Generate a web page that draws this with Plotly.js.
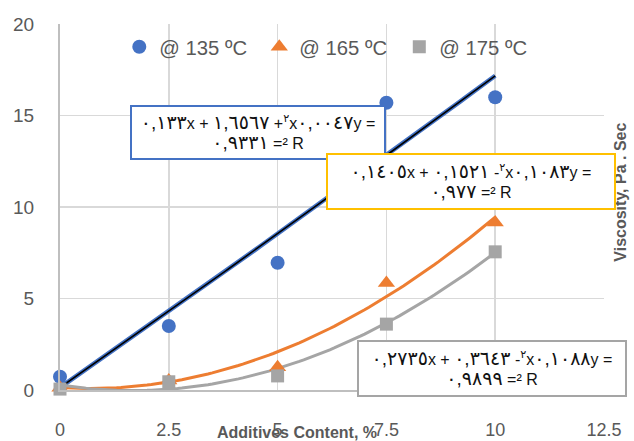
<!DOCTYPE html>
<html>
<head>
<meta charset="utf-8">
<script src="https://cdn.plot.ly/plotly-3.0.1.min.js"></script>
<style>html,body{margin:0;padding:0;background:#fff;}#chart{width:634px;height:441px;}
.annotation-text, .annotation-text tspan{unicode-bidi:bidi-override;direction:ltr;}</style>
</head>
<body>
<div id="chart"></div>
<script>
// Data
var additives = [0, 2.5, 5, 7.5, 10];
var visc135 = [0.72, 3.5, 6.95, 15.7, 16.0];
var visc165 = [0.12, 0.52, 1.25, 5.85, 9.15];
var visc175 = [0.05, 0.45, 0.77, 3.6, 7.55];

// Trendline coefficients as printed on the chart: [a, b, c] for a*x^2 + b*x + c
var fit135 = [0.0047, 1.6567, 0.133];
var fit165 = [0.1083, -0.1521, 0.1405];
var fit175 = [0.1088, -0.3643, 0.2735];

var legendNames = ['@ 135 ºC', '@ 165 ºC', '@ 175 ºC'];
var xTicks = [0, 2.5, 5, 7.5, 10, 12.5];
var yTicks = [0, 5, 10, 15, 20];

// Equation label texts as shown (visual order): [before superscript, after superscript, second line]
var eqText135 = ['٠,١٣٣x + ١,٦٥٦٧ +', 'x٠,٠٠٤٧y =', '٠,٩٣٣١ =² R'];
var eqText165 = ['٠,١٤٠٥x + ٠,١٥٢١ -', 'x٠,١٠٨٣y =', '٠,٩٧٧ =² R'];
var eqText175 = ['٠,٢٧٣٥x + ٠,٣٦٤٣ -', 'x٠,١٠٨٨y =', '٠,٩٨٩٩ =² R'];

var L = '\u202D';
function big(s) {
  return L + s.replace(/([٠-٩][٠-٩,]*)/g, '<span style="font-size:19px">$1</span>');
}
function eqLabel(p) {
  return big(p[0]) + '<sup>' + L + '٢</sup>' + big(p[1]) + '<br>' + big(p[2]);
}

function curve(c) {
  var xs = [], ys = [];
  for (var i = 0; i <= 100; i++) {
    var x = i * 0.1;
    xs.push(x);
    ys.push(c[0] * x * x + c[1] * x + c[2]);
  }
  return {x: xs, y: ys};
}
var c135 = curve(fit135), c165 = curve(fit165), c175 = curve(fit175);

var blue = '#4472C4', orange = '#ED7D31', gray = '#A5A5A5';

var traces = [
  {x: c135.x, y: c135.y, mode: 'lines', line: {color: blue, width: 4.5}, showlegend: false, hoverinfo: 'skip'},
  {x: c135.x, y: c135.y, mode: 'lines', line: {color: '#000000', width: 1.6}, showlegend: false, hoverinfo: 'skip'},
  {x: c165.x, y: c165.y, mode: 'lines', line: {color: orange, width: 3}, showlegend: false, hoverinfo: 'skip'},
  {x: c175.x, y: c175.y, mode: 'lines', line: {color: gray, width: 3}, showlegend: false, hoverinfo: 'skip'},
  {x: additives, y: visc135, name: legendNames[0], mode: 'markers', cliponaxis: false,
   marker: {symbol: 'circle', size: 14, color: blue}},
  {x: additives, y: visc165, name: legendNames[1], mode: 'markers', cliponaxis: false,
   marker: {symbol: 'triangle-up', size: 15, color: orange}},
  {x: additives, y: visc175, name: legendNames[2], mode: 'markers', cliponaxis: false,
   marker: {symbol: 'square', size: 13, color: gray}}
];

var font = 'Liberation Sans, Arial, DejaVu Sans, sans-serif';
var eqFont = {family: 'Liberation Sans, DejaVu Sans, sans-serif', size: 16, color: '#111111'};

function box(text, x, y, w, h, col) {
  return {xref: 'paper', yref: 'paper', x: x, y: y, xanchor: 'center', yanchor: 'middle',
    text: text, showarrow: false, align: 'center', font: eqFont,
    bgcolor: '#ffffff', bordercolor: col, borderwidth: 2, borderpad: 3, width: w, height: h};
}

var layout = {
  width: 634, height: 441,
  margin: {l: 60, r: 30, t: 24, b: 51},
  paper_bgcolor: '#ffffff', plot_bgcolor: '#ffffff',
  font: {family: font, color: '#595959'},
  showlegend: true,
  legend: {orientation: 'h', x: 0.109, y: 0.937, xanchor: 'left', yanchor: 'middle',
    font: {family: font, size: 20.3, color: '#595959'}, bgcolor: 'rgba(0,0,0,0)',
    itemwidth: 30, entrywidth: 95, tracegroupgap: 0},
  xaxis: {range: [0, 12.5], tickvals: xTicks, ticktext: xTicks.map(String),
    showgrid: true, gridcolor: '#D9D9D9', gridwidth: 1.5, zeroline: false,
    showline: true, linecolor: '#BFBFBF', linewidth: 2,
    ticks: 'outside', ticklen: 22, tickcolor: 'rgba(0,0,0,0)',
    tickfont: {family: font, size: 18, color: '#595959'}},
  yaxis: {range: [0, 20], tickvals: yTicks, ticktext: yTicks.map(String),
    showgrid: true, gridcolor: '#D9D9D9', gridwidth: 1.5, zeroline: false,
    showline: true, linecolor: '#BFBFBF', linewidth: 2,
    ticks: 'outside', ticklen: 20, tickcolor: 'rgba(0,0,0,0)',
    tickfont: {family: font, size: 19, color: '#595959'}},
  annotations: [
    {xref: 'paper', yref: 'paper', x: 0.436, y: -0.115, xanchor: 'center', yanchor: 'middle',
     text: '<b>Additives Content, %</b>', showarrow: false,
     font: {family: font, size: 16, color: '#595959'}},
    {xref: 'paper', yref: 'paper', x: 1.03, y: 0.54, xanchor: 'center', yanchor: 'middle',
     text: '<b>Viscosity, Pa . Sec</b>', textangle: -90, showarrow: false,
     font: {family: font, size: 16, color: '#595959'}},
    box(eqLabel(eqText135), 0.364, 0.7036, 246, 45, blue),
    box(eqLabel(eqText165), 0.7546, 0.5697, 280, 47, '#FFC000'),
    box(eqLabel(eqText175), 0.794, 0.060, 260, 47, gray)
  ]
};

Plotly.newPlot('chart', traces, layout, {displayModeBar: false, staticPlot: true});
</script>
</body>
</html>
